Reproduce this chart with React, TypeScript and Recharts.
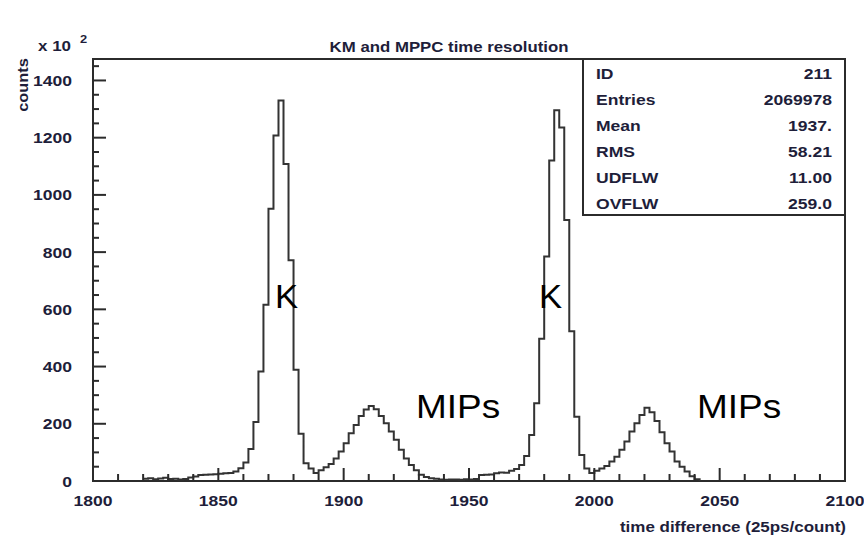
import { LineChart, Line, XAxis, YAxis, ReferenceArea } from "recharts";

// histogram: 2-unit bins starting at 1820 (units of 100 counts)
const FIRST_EDGE = 1820;
const BIN_WIDTH = 2;
const counts = [
  8, 10, 6, 9, 11, 7, 8, 5, 7, 12,
  16, 21, 22, 23, 24, 25, 27, 28, 33, 45,
  65, 112, 206, 383, 616, 952, 1208, 1330, 1108, 772,
  389, 165, 62, 44, 28, 38, 48, 59, 79, 103,
  132, 167, 196, 227, 250, 262, 251, 227, 202, 173,
  144, 109, 79, 56, 38, 22, 14, 10, 8, 5,
  4, 5, 5, 4, 6, 5, 7, 21, 22, 23,
  27, 30, 29, 36, 42, 56, 87, 161, 272, 497,
  785, 1120, 1296, 1236, 912, 523, 225, 91, 44, 28,
  36, 44, 52, 68, 85, 109, 138, 173, 202, 231,
  256, 240, 210, 170, 132, 103, 68, 50, 33, 17,
  6, 0,
];

const xTicks = Array.from({ length: 31 }, (_, i) => 1800 + i * 10);
const xLabels = [1800, 1850, 1900, 1950, 2000, 2050, 2100];
const yTicks = Array.from({ length: 30 }, (_, i) => i * 50);
const yLabels = [0, 200, 400, 600, 800, 1000, 1200, 1400];

const statNames = ["ID", "Entries", "Mean", "RMS", "UDFLW", "OVFLW"];
const statValues = ["211", "2069978", "1937.", "58.21", "11.00", "259.0"];

const data = counts.map((c, i) => ({ x: FIRST_EDGE + i * BIN_WIDTH, count: c }));

const FONT = "'Liberation Sans', Arial, sans-serif";
const INK = "#1e1e3a";
const FRAME = "#2b2b2b";

function Stretch({ x, y, children, size = 15, weight = "bold", anchor = "start", sx = 1.17, rotate = 0, fill = INK }: any) {
  return (
    <text
      transform={`translate(${x},${y}) rotate(${rotate}) scale(${sx},1)`}
      fontSize={size}
      fontWeight={weight}
      textAnchor={anchor}
      fill={fill}
      fontFamily={FONT}
    >
      {children}
    </text>
  );
}

const XTick = (props: any) => {
  const { x, y, payload } = props;
  const major = xLabels.includes(payload.value);
  return (
    <g>
      <line x1={x} y1={y} x2={x} y2={y - (major ? 13 : 7)} stroke={FRAME} strokeWidth={2} />
      {major && (
        <Stretch x={x} y={y + 25} anchor="middle">
          {payload.value}
        </Stretch>
      )}
    </g>
  );
};

const YTick = (props: any) => {
  const { x, y, payload } = props;
  const major = yLabels.includes(payload.value);
  return (
    <g>
      <line x1={x} y1={y} x2={x + (major ? 13 : 6)} y2={y} stroke={FRAME} strokeWidth={2} />
      {major && (
        <Stretch x={x - 21} y={y + 5.5} anchor="end">
          {payload.value}
        </Stretch>
      )}
    </g>
  );
};

export default function App() {
  return (
    <div style={{ position: "absolute", left: 0, top: 0, width: 864, height: 539, background: "#fff" }}>
      <LineChart width={864} height={539} data={data} margin={{ top: 59, right: 19, bottom: 0, left: 0 }}>
        <XAxis
          dataKey="x"
          type="number"
          domain={[1800, 2100]}
          ticks={xTicks}
          interval={0}
          height={58}
          tickSize={0}
          tickMargin={0}
          tickLine={false}
          axisLine={false}
          tick={XTick}
          allowDataOverflow
        />
        <YAxis
          type="number"
          domain={[0, 1475]}
          ticks={yTicks}
          interval={0}
          width={93}
          tickSize={0}
          tickMargin={0}
          tickLine={false}
          axisLine={false}
          tick={YTick}
          allowDataOverflow
        />
        <ReferenceArea x1={1800} x2={2100} y1={0} y2={1475} fill="none" fillOpacity={0} stroke={FRAME} strokeWidth={2} />
        <Line
          type="stepAfter"
          dataKey="count"
          stroke="#333"
          strokeWidth={2}
          dot={false}
          isAnimationActive={false}
        />
      </LineChart>
      <svg width={864} height={539} style={{ position: "absolute", left: 0, top: 0, pointerEvents: "none" }}>
        <Stretch x={449} y={52} anchor="middle" size={14} sx={1.2}>KM and MPPC time resolution</Stretch>
        <Stretch x={38} y={51} size={14.5}>x 10</Stretch>
        <Stretch x={80} y={43} size={11}>2</Stretch>
        <Stretch x={28} y={85} anchor="middle" size={14} rotate={-90}>counts</Stretch>
        <Stretch x={846} y={532} anchor="end" size={14.5}>time difference (25ps/count)</Stretch>

        <rect x={583} y={59} width={262} height={156} fill="#fff" stroke={FRAME} strokeWidth={2} />
        {statNames.map((n, i) => (
          <g key={n}>
            <Stretch x={596} y={79 + i * 26} size={15}>{n}</Stretch>
            <Stretch x={832} y={79 + i * 26} anchor="end" size={15}>{statValues[i]}</Stretch>
          </g>
        ))}

        <Stretch x={275} y={308} size={33} weight="normal" sx={1.05} fill="#000">K</Stretch>
        <Stretch x={539} y={308} size={33} weight="normal" sx={1.05} fill="#000">K</Stretch>
        <Stretch x={416} y={418} size={33} weight="normal" sx={1.12} fill="#000">MIPs</Stretch>
        <Stretch x={697} y={418} size={33} weight="normal" sx={1.12} fill="#000">MIPs</Stretch>
      </svg>
    </div>
  );
}
